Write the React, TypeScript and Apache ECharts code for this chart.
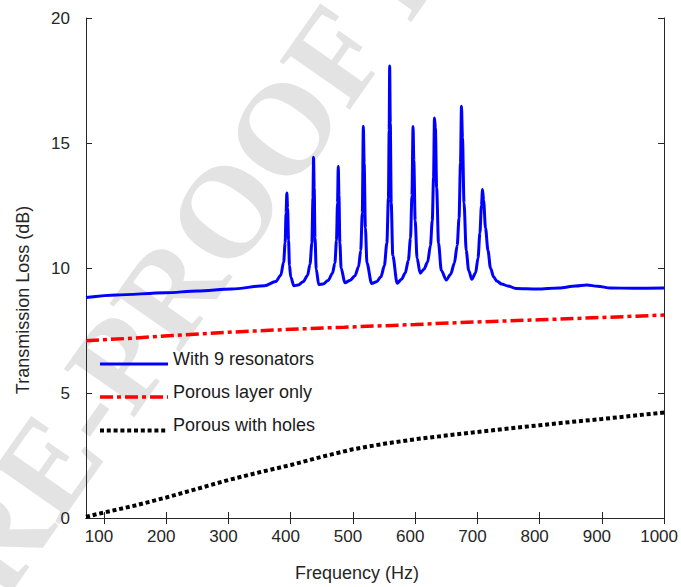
import React, { useEffect, useRef } from "react";
import * as echarts from "echarts";

// Frequency axis
const xTicks = [100, 200, 300, 400, 500, 600, 700, 800, 900, 1000];
const yTicks = [0, 5, 10, 15, 20];

// With 9 resonators: frequency (Hz) and transmission loss (dB)
const resonatorFreq = [
  71, 120, 199, 250, 305, 358, 376, 384, 388.6, 391, 392.5, 393.8, 395, 396.5, 398, 400,
  405, 412, 420, 427, 431, 434, 435.7, 436.7, 437.7, 439, 441, 445, 452, 460, 467, 471,
  473.5, 475.2, 476.4, 477.5, 479, 481, 487, 495, 503, 509, 512.5, 515, 516.7, 518, 520,
  522.5, 530, 538, 545, 550.5, 554.5, 557, 558.2, 559, 560, 561.5, 564, 571, 578, 584, 589,
  592.5, 594.8, 596.6, 597.8, 600, 603, 608, 614, 620, 624.5, 627.5, 629.5, 631, 632.5,
  634.5, 637.5, 642, 650, 657, 663, 667.5, 670.5, 672.8, 674.4, 676, 678.5, 682, 686, 691,
  697, 701, 704, 706.5, 708.2, 710, 713, 717, 721, 726, 731, 739, 749, 762, 796, 831, 858,
  876, 893, 914, 950, 1000,
];
const resonatorTL = [
  8.82, 8.92, 9.01, 9.08, 9.16, 9.29, 9.46, 9.71, 10.24, 11.0, 12.2, 13.0, 12.4, 11.1, 10.1, 9.64,
  9.29, 9.32, 9.45, 9.7, 10.15, 11.0, 12.8, 14.43, 13.2, 11.2, 9.95, 9.34, 9.36, 9.5, 9.78, 10.2,
  11.1, 12.6, 14.07, 12.9, 11.0, 10.0, 9.41, 9.5, 9.68, 10.05, 10.7, 12.2, 15.67, 14.2, 11.6,
  10.2, 9.38, 9.45, 9.65, 10.1, 11.0, 12.8, 15.5, 18.08, 15.8, 12.6, 10.5, 9.39, 9.55, 9.8, 10.3,
  11.2, 12.9, 15.66, 14.3, 11.9, 10.4, 9.79, 9.95, 10.24, 10.9, 11.9, 13.6, 16.0, 15.6,
  13.2, 11.0, 9.9, 9.52, 9.75, 10.2, 10.9, 12.0, 14.2, 16.47, 15.2, 12.6, 10.7, 9.9, 9.55,
  9.8, 10.4, 11.4, 12.5, 13.14, 12.7, 11.6, 10.7, 10.0, 9.65, 9.48, 9.36, 9.28, 9.18, 9.16, 9.2, 9.28,
  9.32, 9.27, 9.2, 9.19, 9.2,
];

// Porous layer only
const porousFreq = [71, 150, 210, 300, 400, 486, 600, 665, 800, 900, 1000];
const porousTL = [7.09, 7.2, 7.3, 7.43, 7.55, 7.63, 7.74, 7.81, 7.93, 8.02, 8.12];

// Porous with holes
const holesFreq = [71, 100, 150, 200, 250, 300, 350, 400, 450, 500, 550, 600, 650, 700, 750, 800, 850, 900, 950, 1000];
const holesTL = [0.05, 0.22, 0.5, 0.82, 1.17, 1.52, 1.83, 2.12, 2.45, 2.75, 2.97, 3.15, 3.3, 3.44, 3.58, 3.71, 3.84, 3.96, 4.09, 4.22];

const seriesNames = ["With 9 resonators", "Porous layer only", "Porous with holes"];

const FONT = '"Liberation Sans", Arial, Helvetica, sans-serif';
const INK = "#262626";

// line styles shared by the curves and their legend keys
const lineStyles = [
  { color: "#0000ff", width: 3, type: "solid" as any, cap: "butt" },
  { color: "#ff0000", width: 3.5, type: [13, 4, 4, 4] as any, cap: "butt" },
  { color: "#000000", width: 4, type: [4, 2.8] as any, cap: "butt" },
];

const pairs = (xs: number[], ys: number[]) => xs.map((x, i) => [x, ys[i]]);

export default function App() {
  const ref = useRef<HTMLDivElement>(null);

  useEffect(() => {
    if (!ref.current) return;
    const chart = echarts.init(ref.current, null, { renderer: "svg" });

    const xMin = 71;
    const xMax = 1000;

    const mirrorX = {
      type: "value",
      min: xMin,
      max: xMax,
      axisLine: { show: true, lineStyle: { color: INK, width: 1 } },
      axisTick: { show: true, inside: true, length: 6, customValues: xTicks, lineStyle: { color: INK } },
      axisLabel: { show: false },
      splitLine: { show: false },
    };
    const mirrorY = {
      type: "value",
      min: 0,
      max: 20,
      interval: 5,
      axisLine: { show: true, lineStyle: { color: INK, width: 1 } },
      axisTick: { show: true, inside: true, length: 6, lineStyle: { color: INK } },
      axisLabel: { show: false },
      splitLine: { show: false },
    };

    // diagonal watermark
    const wmAngle = (55 * Math.PI) / 180;
    const wmSize = 130;

    // legend keys: a short line and a label per curve
    const legendX = 100;
    const legendW = 68;
    const legendY = [364, 397, 430.5];
    const legendItems: any[] = [];
    seriesNames.forEach((name, i) => {
      const ls = lineStyles[i];
      legendItems.push({
        type: "line",
        silent: true,
        z: 20,
        shape: { x1: legendX, y1: legendY[i], x2: legendX + legendW, y2: legendY[i] },
        style: { stroke: ls.color, lineWidth: ls.width, lineDash: ls.type === "solid" ? null : ls.type, lineCap: "butt" },
      });
      legendItems.push({
        type: "text",
        silent: true,
        z: 20,
        x: legendX + legendW + 5,
        y: legendY[i] - 5.5,
        style: { text: name, font: `18px ${FONT}`, fill: "#1a1a1a", align: "left", verticalAlign: "middle" },
      });
    });

    chart.setOption({
      animation: false,
      backgroundColor: "#ffffff",
      grid: { left: 86, right: 10, top: 18, bottom: 69, containLabel: false },
      xAxis: [
        {
          type: "value",
          position: "bottom",
          min: xMin,
          max: xMax,
          axisLine: { show: true, onZero: false, lineStyle: { color: INK, width: 1 } },
          axisTick: { show: true, inside: true, length: 6, customValues: xTicks, lineStyle: { color: INK } },
          axisLabel: {
            customValues: xTicks,
            formatter: (v: number) => String(v),
            fontFamily: FONT,
            fontSize: 17,
            color: INK,
            margin: 10,
            padding: [0, 10, 0, 0],
          },
          splitLine: { show: false },
        },
        { ...mirrorX, position: "top" },
      ],
      yAxis: [
        {
          type: "value",
          position: "left",
          min: 0,
          max: 20,
          interval: 5,
          axisLine: { show: true, onZero: false, lineStyle: { color: INK, width: 1 } },
          axisTick: { show: true, inside: true, length: 6, lineStyle: { color: INK } },
          axisLabel: {
            fontFamily: FONT,
            fontSize: 17,
            color: INK,
            margin: 16,
            padding: [0, 0, 7, 0],
            formatter: (v: number) => (yTicks.includes(v) ? String(v) : ""),
          },
          splitLine: { show: false },
        },
        { ...mirrorY, position: "right" },
      ],
      graphic: [
        {
          type: "text",
          z: -10,
          silent: true,
          x: 84 - 2.167 * wmSize * Math.cos(wmAngle),
          y: 412 + 2.167 * wmSize * Math.sin(wmAngle),
          rotation: wmAngle,
          style: {
            text: "PRE-PROOF PRE-PROOF",
            font: `bold ${wmSize}px "Liberation Serif", "Times New Roman", serif`,
            fill: "#e3e3e3",
            align: "left",
            verticalAlign: "middle",
          },
        },
        {
          type: "text",
          silent: true,
          x: 357,
          y: 573,
          style: {
            text: "Frequency (Hz)",
            font: `18px ${FONT}`,
            fill: INK,
            align: "center",
            verticalAlign: "middle",
          },
        },
        {
          type: "text",
          silent: true,
          x: 23,
          y: 300,
          rotation: Math.PI / 2,
          style: {
            text: "Transmission Loss (dB)",
            font: `18px ${FONT}`,
            fill: INK,
            align: "center",
            verticalAlign: "middle",
          },
        },
        ...legendItems,
      ],
      series: [
        {
          name: seriesNames[0],
          type: "line",
          data: pairs(resonatorFreq, resonatorTL),
          showSymbol: false,
          symbol: "none",
          smooth: 0.3,
          smoothMonotone: "x",
          z: 5,
          lineStyle: { ...lineStyles[0], join: "round" },
        },
        {
          name: seriesNames[1],
          type: "line",
          data: pairs(porousFreq, porousTL),
          showSymbol: false,
          symbol: "none",
          z: 4,
          lineStyle: lineStyles[1],
        },
        {
          name: seriesNames[2],
          type: "line",
          data: pairs(holesFreq, holesTL),
          showSymbol: false,
          symbol: "none",
          z: 3,
          lineStyle: lineStyles[2],
        },
      ],
    });

    return () => chart.dispose();
  }, []);

  return <div ref={ref} style={{ width: 681, height: 587, position: "absolute", left: 0, top: 0 }} />;
}
